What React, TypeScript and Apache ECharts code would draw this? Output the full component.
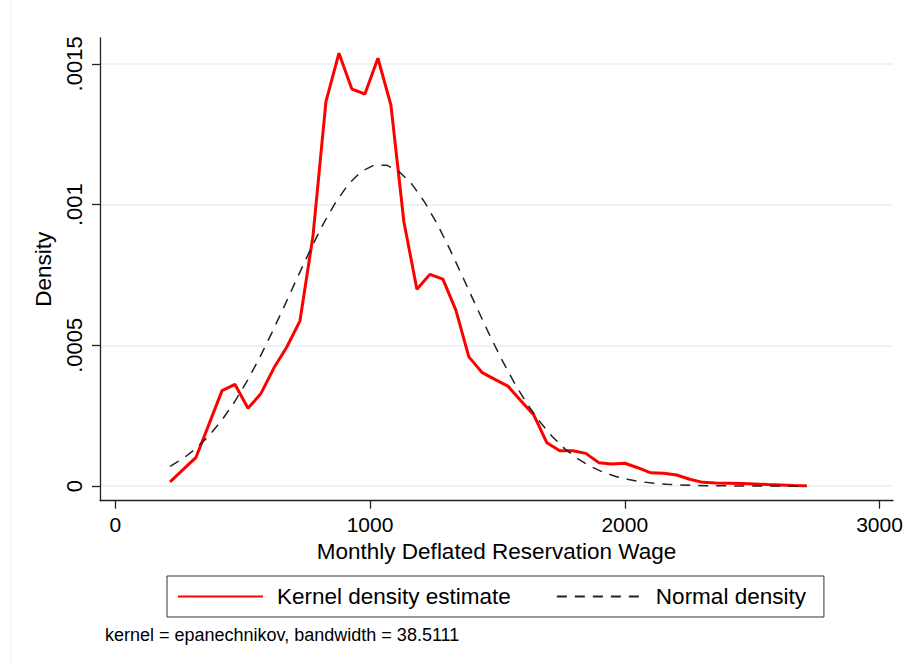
import React, { useEffect, useRef } from "react";
import * as echarts from "echarts";

// Epanechnikov kernel density estimate of the monthly deflated reservation wage
const kdeWage = [
  215, 266, 317, 368, 419, 470, 521, 572, 623, 674,
  725, 776, 827, 878, 929, 980, 1031, 1082, 1133, 1184,
  1235, 1286, 1337, 1388, 1439, 1490, 1541, 1592, 1643, 1694,
  1745, 1796, 1847, 1898, 1949, 2000, 2051, 2102, 2153, 2204,
  2255, 2306, 2357, 2408, 2459, 2510, 2561, 2612, 2663, 2714,
];
const kdeDensity = [
  0.000015, 0.000058, 0.000102, 0.00022, 0.000339, 0.000361, 0.000276, 0.000329, 0.00042, 0.000495,
  0.000587, 0.000888, 0.001366, 0.001538, 0.00141, 0.001393, 0.00152, 0.001354, 0.000939, 0.000699,
  0.000752, 0.000735, 0.000625, 0.000459, 0.000404, 0.000379, 0.000355, 0.000303, 0.000252, 0.000154,
  0.000125, 0.000125, 0.000116, 0.000083, 0.000078, 0.000081, 0.000065, 0.000047, 0.000045, 0.000039,
  0.000024, 0.000013, 0.000011, 0.00001, 0.000009, 0.000007, 0.000005, 0.000004, 0.000002, 0.000001,
];

// Overlaid normal density
const normalWage = [
  215, 265, 315, 365, 415, 465, 515, 565, 615, 665,
  715, 765, 815, 865, 915, 965, 1015, 1065, 1115, 1165,
  1215, 1265, 1315, 1365, 1415, 1465, 1515, 1565, 1615, 1665,
  1715, 1765, 1815, 1865, 1915, 1965, 2015, 2065, 2115, 2165,
  2215, 2265, 2315, 2365, 2415, 2465, 2515, 2565, 2615, 2665, 2715,
];
const normalDensity = [
  0.00007, 0.000097, 0.000132, 0.000176, 0.00023, 0.000294, 0.000369, 0.000453, 0.000545, 0.000642,
  0.000741, 0.000838, 0.000929, 0.001008, 0.001072, 0.001117, 0.00114, 0.00114, 0.001117, 0.001072,
  0.001008, 0.000929, 0.000838, 0.000741, 0.000642, 0.000545, 0.000453, 0.000369, 0.000294, 0.00023,
  0.000176, 0.000132, 0.000097, 0.00007, 0.000049, 0.000034, 0.000023, 0.000015, 0.00001, 0.000006,
  0.000004, 0.000002, 0.000001, 0.000001, 0.0000005, 0.0000003, 0.0000002, 0.0000001, 0.0000001, 0, 0,
];

const xTickValues = [0, 1000, 2000, 3000];
const yTickValues = [0, 0.0005, 0.001, 0.0015];
const yTickLabels = ["0", ".0005", ".001", ".0015"];

const seriesNames = ["Kernel density estimate", "Normal density"];
const footNote = "kernel = epanechnikov, bandwidth = 38.5111";

const FONT = '"Liberation Sans", Arial, Helvetica, sans-serif';
const AXIS_COLOR = "#222";

export default function App() {
  const ref = useRef<HTMLDivElement>(null);

  useEffect(() => {
    if (!ref.current) return;
    const chart = echarts.init(ref.current, null, { renderer: "svg" });

    const kdePairs = kdeWage.map((x, i) => [x, kdeDensity[i]]);
    const normalPairs = normalWage.map((x, i) => [x, normalDensity[i]]);

    chart.setOption({
      animation: false,
      backgroundColor: "#fff",
      textStyle: { fontFamily: FONT },
      grid: {
        left: 100,
        top: 38,
        width: 793,
        height: 462.7,
        containLabel: false,
        outerBoundsMode: "none",
      },
      xAxis: {
        type: "value",
        min: -60,
        max: 3053,
        name: "Monthly Deflated Reservation Wage",
        nameLocation: "middle",
        nameGap: 39,
        nameTextStyle: { fontSize: 22.5, color: "#000", fontFamily: FONT },
        axisLine: { show: true, onZero: false, lineStyle: { color: AXIS_COLOR, width: 1.3 } },
        axisTick: {
          show: true,
          length: 8,
          customValues: xTickValues,
          lineStyle: { color: AXIS_COLOR, width: 1.3 },
        },
        axisLabel: {
          customValues: xTickValues,
          fontSize: 21,
          color: "#000",
          margin: 13,
          fontFamily: FONT,
          formatter: (v: number) => String(Math.round(v)),
        },
        splitLine: { show: false },
      },
      yAxis: {
        type: "value",
        min: -0.0000522,
        max: 0.001592,
        name: "Density",
        nameLocation: "middle",
        nameGap: 42,
        nameTextStyle: { fontSize: 22.5, color: "#000", fontFamily: FONT },
        axisLine: { show: true, onZero: false, lineStyle: { color: AXIS_COLOR, width: 1.3 } },
        axisTick: {
          show: true,
          length: 8,
          customValues: yTickValues,
          lineStyle: { color: AXIS_COLOR, width: 1.3 },
        },
        axisLabel: {
          customValues: yTickValues,
          rotate: 90,
          fontSize: 22,
          color: "#000",
          margin: 15,
          fontFamily: FONT,
          formatter: (v: number) => {
            const idx = yTickValues.findIndex((t) => Math.abs(t - v) < 1e-9);
            return idx >= 0 ? yTickLabels[idx] : "";
          },
        },
        splitLine: { show: true, lineStyle: { color: "#e6eff1", width: 1.5 } },
      },
      legend: {
        left: 167,
        top: 576,
        orient: "horizontal",
        padding: [9, 18, 9, 10],
        itemWidth: 85,
        itemHeight: 22,
        itemGap: 45,
        borderColor: "#333",
        borderWidth: 1,
        borderRadius: 0,
        selectedMode: false,
        itemStyle: { opacity: 0, borderWidth: 0 },
        textStyle: { fontSize: 22.5, color: "#000", fontFamily: FONT, padding: [0, 0, 0, 9] },
        data: seriesNames,
      },
      series: [
        {
          name: seriesNames[0],
          type: "line",
          data: kdePairs,
          showSymbol: false,
          symbol: "none",
          lineStyle: { color: "#ff0000", width: 3 },
          itemStyle: { color: "#ff0000" },
          z: 2,
        },
        {
          name: seriesNames[1],
          type: "line",
          data: normalPairs,
          showSymbol: false,
          symbol: "none",
          lineStyle: { color: "#222", width: 1.5, type: [10, 8] },
          itemStyle: { color: "#222" },
          z: 3,
        },
      ],
      graphic: [
        {
          type: "line",
          shape: { x1: 11, y1: 0, x2: 11, y2: 664 },
          style: { stroke: "#eeeeee", lineWidth: 1 },
          silent: true,
        },
        {
          type: "text",
          left: 105,
          top: 626,
          style: { text: footNote, fontSize: 18, fill: "#000", fontFamily: FONT },
          silent: true,
        },
      ],
    });

    return () => chart.dispose();
  }, []);

  return (
    <div
      ref={ref}
      style={{ position: "absolute", left: 0, top: 0, width: 910, height: 664, background: "#fff" }}
    />
  );
}
